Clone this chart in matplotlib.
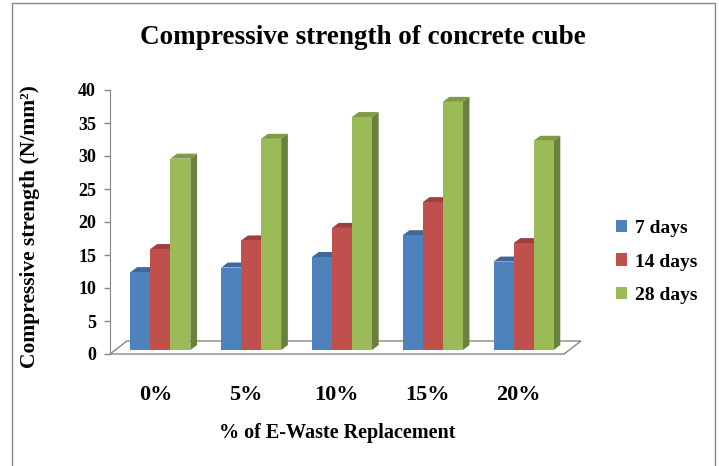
import matplotlib

matplotlib.use("Agg")
import matplotlib.pyplot as plt
from matplotlib.patches import Polygon, Rectangle
import numpy as np

# compressive strength (N/mm^2) per e-waste replacement level
categories = ["0%", "5%", "10%", "15%", "20%"]
days_7 = [11.8, 12.5, 14.1, 17.4, 13.4]
days_14 = [15.3, 16.6, 18.5, 22.4, 16.2]
days_28 = [29.0, 32.0, 35.3, 37.6, 31.7]
series_labels = ["7 days", "14 days", "28 days"]

# (front, top, side) shades, Office 2007 palette
SHADES = [
    ("#4f81bd", "#3e6899", "#385d8a"),
    ("#c0504d", "#9c3f3d", "#8c3836"),
    ("#9bbb59", "#7f9b46", "#6b803c"),
]
EDGE = "#868686"
FONT = "Liberation Serif"

# pseudo-3D geometry in data units
BAR_W = 0.22
OFF_X, OFF_Y = 0.055, 0.6      # bars sit a little back from the floor front edge
SIDE_X, SIDE_Y = 0.074, 0.76   # depth of each bar
FLOOR_X, FLOOR_Y = 0.187, 1.97  # full floor depth

W, H = 719, 466
fig = plt.figure(figsize=(W / 100, H / 100), dpi=100)
ax = fig.add_axes([110 / W, (H - 354) / H, 454 / W, 264 / H])
ax.set_xlim(0, len(categories))
ax.set_ylim(0, 40)

# floor
floor = Polygon(
    [(0, 0), (len(categories), 0),
     (len(categories) + FLOOR_X, FLOOR_Y), (FLOOR_X, FLOOR_Y)],
    closed=True, facecolor="white", edgecolor=EDGE, lw=1.0,
    clip_on=False, zorder=1,
)
ax.add_patch(floor)

x = np.arange(len(categories)) + 0.5
for i, (vals, (c_front, c_top, c_side)) in enumerate(
        zip([days_7, days_14, days_28], SHADES)):
    left = x + OFF_X + (i - 1.5) * BAR_W
    ax.bar(left, vals, width=BAR_W, bottom=OFF_Y, align="edge",
           color=c_front, edgecolor="none", zorder=3, label=series_labels[i])
    for xl, v in zip(left, vals):
        top = OFF_Y + v
        ax.add_patch(Polygon(
            [(xl, top), (xl + BAR_W, top),
             (xl + BAR_W + SIDE_X, top + SIDE_Y), (xl + SIDE_X, top + SIDE_Y)],
            closed=True, facecolor=c_top, edgecolor="none", zorder=2, clip_on=False,
        ))
        ax.add_patch(Polygon(
            [(xl + BAR_W, OFF_Y), (xl + BAR_W + SIDE_X, OFF_Y + SIDE_Y),
             (xl + BAR_W + SIDE_X, top + SIDE_Y), (xl + BAR_W, top)],
            closed=True, facecolor=c_side, edgecolor="none", zorder=2, clip_on=False,
        ))

for s in ("top", "right", "bottom"):
    ax.spines[s].set_visible(False)
ax.spines["left"].set_color(EDGE)
ax.spines["left"].set_zorder(0)
ax.set_yticks(np.arange(0, 41, 5))
ax.tick_params(axis="y", direction="out", length=4, width=1, color=EDGE, pad=6)
ax.set_xticks(x)
ax.set_xticklabels(categories)
ax.tick_params(axis="x", length=0, pad=22)
for lab in ax.get_yticklabels():
    lab.set_fontfamily(FONT)
    lab.set_fontweight("bold")
    lab.set_fontsize(13)
for lab in ax.get_xticklabels():
    lab.set_fontfamily(FONT)
    lab.set_fontweight("bold")
    lab.set_fontsize(16)
ax.patch.set_visible(False)

fig.text(363 / W, 1 - 37 / H, "Compressive strength of concrete cube",
         ha="center", va="center", fontsize=19.5, fontweight="bold", family=FONT)
fig.text(337 / W, 1 - 433 / H, "% of E-Waste Replacement",
         ha="center", va="center", fontsize=14.5, fontweight="bold", family=FONT)
fig.text(30 / W, 1 - 227 / H, "Compressive strength (N/mm²)",
         ha="center", va="center", rotation=90, fontsize=15.5, fontweight="bold",
         family=FONT)

handles, labels = ax.get_legend_handles_labels()
fig.legend(handles, labels, loc="center left", bbox_to_anchor=(598 / W, 1 - 262 / H),
           frameon=False, handlelength=0.6, handleheight=0.6, handletextpad=0.4,
           labelspacing=0.85, prop={"family": FONT, "weight": "bold", "size": 14})

# chart border
fig.patches.append(Rectangle((12 / W, -0.01), (715 - 12) / W, 1 - 3 / H + 0.01,
                             transform=fig.transFigure, fill=False,
                             edgecolor=EDGE, lw=1.0))

fig.savefig("out.png", dpi=100)
